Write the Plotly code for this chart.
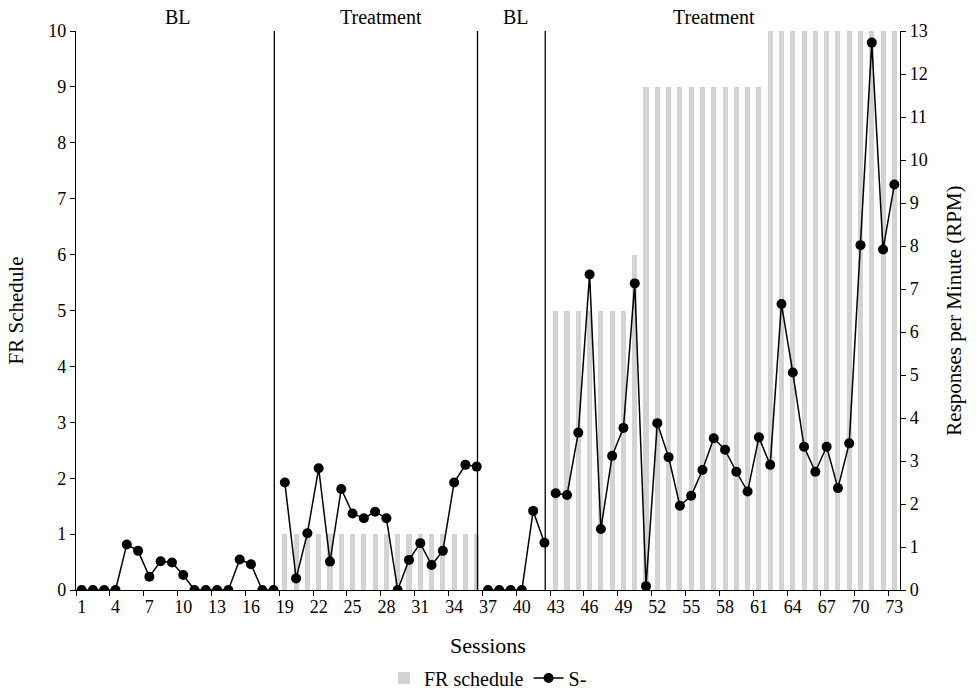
import plotly.graph_objects as go

# ---------------- data ----------------
sessions = list(range(1, 74))

# FR schedule per session (None = no FR schedule in baseline)
fr_schedule = (
    [None] * 18          # sessions 1-18 (BL)
    + [1] * 18           # sessions 19-36 (Treatment)
    + [None] * 6         # sessions 37-42 (BL)
    + [5] * 7            # sessions 43-49
    + [6]                # session 50
    + [9] * 11           # sessions 51-61
    + [10] * 12          # sessions 62-73
)

# S- responses per minute
rpm = [
    0, 0, 0, 0, 1.06, 0.91, 0.31, 0.67, 0.64, 0.35,
    0, 0, 0, 0, 0.71, 0.60, 0, 0,
    2.50, 0.27, 1.32, 2.83, 0.66, 2.35, 1.78, 1.67, 1.82, 1.67,
    0, 0.70, 1.09, 0.58, 0.91, 2.50, 2.91, 2.87,
    0, 0, 0, 0, 1.84, 1.10,
    2.25, 2.21, 3.66, 7.34, 1.42, 3.12, 3.77, 7.13, 0.09, 3.88,
    3.09, 1.96, 2.19, 2.79, 3.53, 3.26, 2.75, 2.29, 3.55, 2.91,
    6.65, 5.06, 3.33, 2.75, 3.33, 2.37, 3.41, 8.02, 12.73, 7.92, 9.43,
]

# phases: (label, first session, last session)
phases = [("BL", 1, 18), ("Treatment", 19, 36), ("BL", 37, 42), ("Treatment", 43, 73)]

x_tick_labels = [str(s) for s in range(1, 74, 3)]

# ---------------- build ----------------
FONT = "Liberation Serif, Times New Roman, Times, serif"

# line broken between phases
line_x, line_y = [], []
for i, (_, a, b) in enumerate(phases):
    if i > 0:
        line_x.append(None)
        line_y.append(None)
    for s in range(a, b + 1):
        line_x.append(s)
        line_y.append(rpm[s - 1])

fig = go.Figure()
fig.add_trace(go.Bar(
    x=sessions, y=fr_schedule, name="FR schedule",
    marker=dict(color="#d3d3d3", line=dict(width=0)),
    width=0.45, yaxis="y",
))
fig.add_trace(go.Scatter(
    x=line_x, y=line_y, name="S-", mode="lines+markers",
    line=dict(color="black", width=1.5),
    marker=dict(color="black", size=10),
    connectgaps=False, yaxis="y2",
))

shapes = []
for i, (_, a, b) in enumerate(phases[:-1]):
    xl = b + 0.07
    shapes.append(dict(type="line", xref="x", yref="paper", x0=xl, x1=xl, y0=0, y1=1,
                       line=dict(color="black", width=1.3), layer="above"))

annotations = []
for label, a, b in phases:
    annotations.append(dict(x=(a + b) / 2 - (1 if b == 73 else 0), y=1.0, xref="x", yref="paper",
                            text=label, showarrow=False, yanchor="bottom", yshift=1,
                            font=dict(family=FONT, size=20, color="black")))

fig.update_layout(
    width=978, height=690,
    margin=dict(l=76, r=78, t=31, b=100, autoexpand=False),
    paper_bgcolor="white", plot_bgcolor="white",
    font=dict(family=FONT, size=18, color="black"),
    bargap=0,
    showlegend=True,
    legend=dict(orientation="h", x=0.5, xanchor="center", yref="container",
                y=12 / 690, yanchor="middle",
                font=dict(family=FONT, size=20), itemwidth=30, tracegroupgap=0),
    xaxis=dict(
        range=[0.5, 73.5], tickmode="array",
        tickvals=list(range(1, 74, 3)), ticktext=x_tick_labels,
        ticks="outside", ticklen=0, showgrid=False, zeroline=False,
        showline=True, linecolor="black", linewidth=1.3, automargin=False,
        tickfont=dict(family=FONT, size=18),
        minor=dict(tickmode="array", tickvals=[0.5 + 3 * k for k in range(25)],
                   ticks="outside", ticklen=5, tickcolor="black", showgrid=False),
        title=dict(text="Sessions", font=dict(family=FONT, size=22), standoff=24),
    ),
    yaxis=dict(
        range=[0, 10], dtick=1, ticks="outside", ticklen=5, tickcolor="black",
        showline=True, linecolor="black", linewidth=1.3, showgrid=False, zeroline=False,
        automargin=False,
        tickfont=dict(family=FONT, size=18),
        title=dict(text="FR Schedule", font=dict(family=FONT, size=21), standoff=18),
    ),
    yaxis2=dict(
        range=[0, 13], dtick=1, overlaying="y", side="right", ticks="outside", ticklen=5,
        tickcolor="black", showline=True, linecolor="black", linewidth=1.3,
        showgrid=False, zeroline=False, automargin=False,
        tickfont=dict(family=FONT, size=18),
        title=dict(text="Responses per Minute (RPM)", font=dict(family=FONT, size=21), standoff=19),
    ),
    shapes=shapes,
    annotations=annotations,
)

fig.write_html("out.html")
